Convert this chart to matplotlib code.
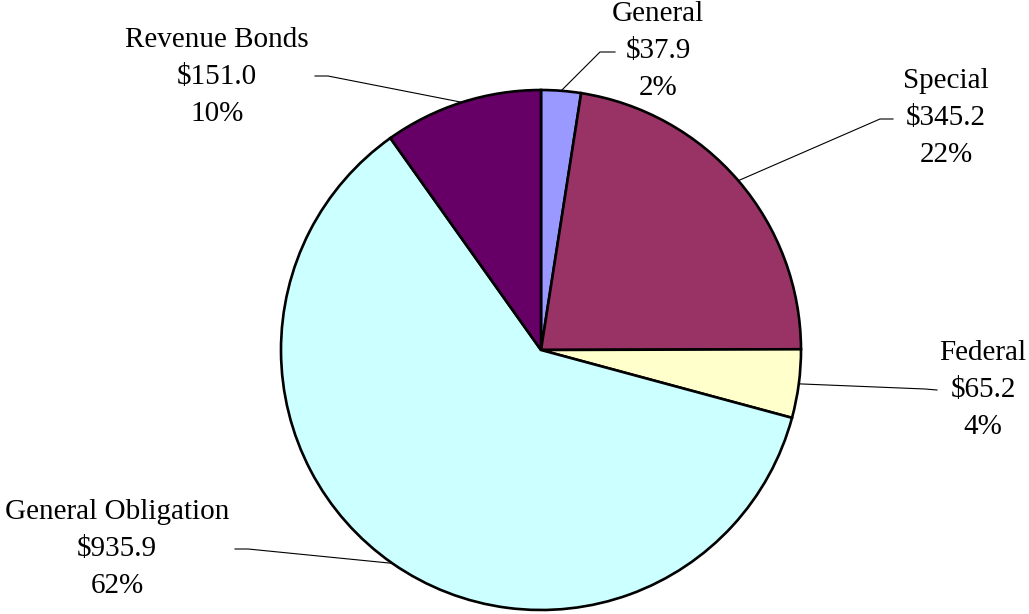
import numpy as np
import matplotlib.pyplot as plt

plt.rcParams['font.family'] = ['Liberation Serif', 'DejaVu Serif']

# bond funding by source ($ millions)
sources = ['General', 'Special', 'Federal', 'General Obligation', 'Revenue Bonds']
amounts = [37.9, 345.2, 65.2, 935.9, 151.0]
pct_labels = ['2%', '22%', '4%', '62%', '10%']
colors = ['#9999FF', '#993366', '#FFFFCC', '#CCFFFF', '#660066']

W, H = 1029, 614
cx, cy, R = 541, H - 350, 260

# label placement (pixel layout): text centre, elbow of the leader, end of leader
text_pos = [(658, H - 51), (946, H - 118), (983, H - 390), (117, H - 549), (217, H - 77)]
elbow = [(600, H - 52), (880, H - 119), (925, H - 389), (248, H - 549), (328, H - 76)]
leader_end = [(615, H - 52), (893, H - 119), (937, H - 390), (235, H - 549), (315, H - 76)]

fig = plt.figure(figsize=(W / 100, H / 100), dpi=100)
ax = fig.add_axes([0, 0, 1, 1])

wedges, _ = ax.pie(amounts, colors=colors, startangle=90, counterclock=False,
                   center=(cx, cy), radius=R, frame=True,
                   wedgeprops=dict(edgecolor='black', linewidth=1.9))
ax.set_xlim(0, W)
ax.set_ylim(0, H)
ax.set_aspect('equal')
ax.axis('off')

for i, w in enumerate(wedges):
    mid = np.deg2rad((w.theta1 + w.theta2) / 2)
    px, py = cx + R * np.cos(mid), cy + R * np.sin(mid)
    ex, ey = elbow[i]
    lx, ly = leader_end[i]
    ax.plot([px, ex, lx], [py, ey, ly], color='black', lw=0.8)
    label = '%s\n$%.1f\n%s' % (sources[i], amounts[i], pct_labels[i])
    ax.text(text_pos[i][0], text_pos[i][1], label, ha='center', va='center',
            fontsize=21, linespacing=1.56, color='black')

fig.savefig('out.png', dpi=100)
